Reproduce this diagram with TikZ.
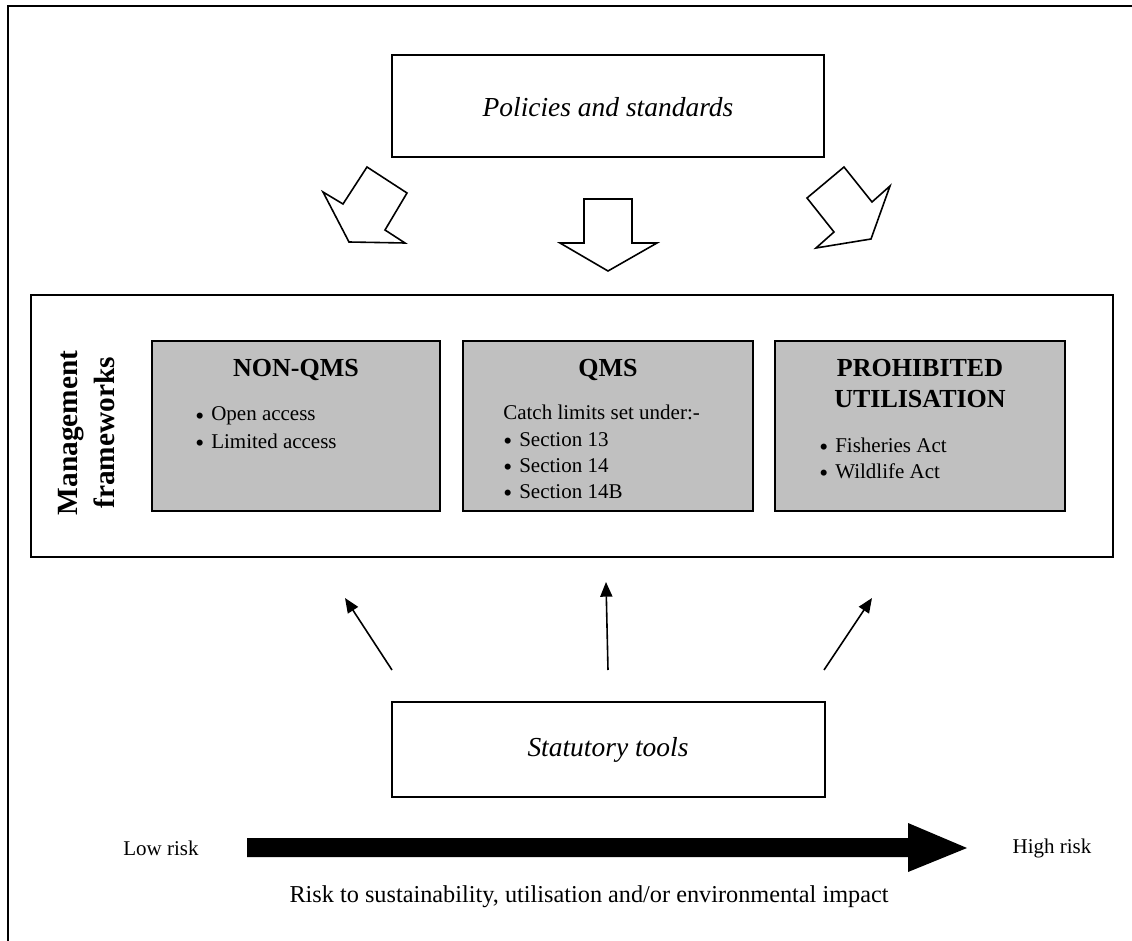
\documentclass[tikz,border=0pt]{standalone}
\usepackage{fontspec}
\setmainfont{Liberation Serif}
\usetikzlibrary{arrows.meta}
\definecolor{boxgray}{RGB}{192,192,192}
\begin{document}
\begin{tikzpicture}[x=0.75pt,y=-0.75pt,
  box/.style={draw, line width=1.3pt, inner sep=0pt},
  gbox/.style={box, fill=boxgray, minimum height=127.5pt},
  ital/.style={font=\fontsize{20.6}{24}\selectfont\itshape},
  head/.style={font=\fontsize{19.5}{22.5}\selectfont\bfseries, align=center, anchor=base},
  item/.style={font=\fontsize{15.75}{19}\selectfont, anchor=base west, inner sep=0pt},
  blockarrow/.style={draw, line width=1.2pt, line join=miter, fill=white},
  thin/.style={line width=1.2pt, -{Triangle[length=11pt,width=9pt]}},
  plain/.style={font=\fontsize{15.75}{19}\selectfont}
]
\newcommand{\bul}{\makebox[12pt][l]{\raisebox{-2.3pt}{\fontsize{19}{19}\selectfont\textbullet}}}
\useasboundingbox (0,0) rectangle (1132,941);
\clip (0,0) rectangle (1132,941);
% outer frame (runs past the right and bottom edges)
\draw[line width=1.4pt] (8,960) -- (8,6) -- (1150,6);

% top box
\node[box, minimum width=324pt, minimum height=76.5pt] (pol) at (608,106) {};
\node[ital] (poltext) at (608,107) {Policies and standards};

% block arrows
\draw[blockarrow] (323,192) -- (343,204) -- (367,167) -- (407,193) -- (385,230) -- (405,243) -- (349,242) -- cycle;
\draw[blockarrow] (584,199) -- (632,199) -- (632,243) -- (657,243) -- (608,271) -- (560,243) -- (584,243) -- cycle;
\draw[blockarrow] (807,198) -- (844,167) -- (872,202) -- (890,186) -- (871,239) -- (816,248) -- (834,232) -- cycle;

% management frame
\node[box, minimum width=811.5pt, minimum height=196.5pt] (mgmt) at (572,426) {};
\node[rotate=90, align=center, font=\fontsize{22}{27.75}\selectfont\bfseries] (mgtext) at (87,433) {Management\\frameworks};

\node[gbox, minimum width=216pt] (nonqms) at (296,426) {};
\node[gbox, minimum width=217.5pt] (qms) at (608,426) {};
\node[gbox, minimum width=217.5pt] (prohib) at (920,426) {};

\node[head] (h1) at (296,377) {NON-QMS};
\node[item] (i11) at (195,421) {\bul Open access};
\node[item] (i12) at (195,448) {\bul Limited access};

\node[head] (h2) at (608,377) {QMS};
\node[item] (i20) at (503,419) {Catch limits set under:-};
\node[item] (i21) at (503,446) {\bul Section 13};
\node[item] (i22) at (503,472) {\bul Section 14};
\node[item] (i23) at (503,498) {\bul Section 14B};

\node[head] (h3a) at (920,377) {PROHIBITED};
\node[head] (h3b) at (920,407) {UTILISATION};
\node[item] (i31) at (819,452) {\bul Fisheries Act};
\node[item] (i32) at (819,478) {\bul Wildlife Act};

% statutory tools
\node[box, minimum width=324.75pt, minimum height=71.25pt] (stat) at (608.5,749.5) {};
\node[ital] (stattext) at (608,750) {Statutory tools};

\coordinate (s1) at (392,670); \coordinate (t1) at (345,598);
\coordinate (s2) at (608,670); \coordinate (t2) at (606,582);
\coordinate (s3) at (824,670); \coordinate (t3) at (872,598);
\draw[thin] (s1) -- (t1);
\draw[thin] (s2) -- (t2);
\draw[thin] (s3) -- (t3);

% risk arrow
\fill (247,838) -- (908,838) -- (908,823) -- (967,848) -- (908,872) -- (908,857) -- (247,857) -- cycle;
\node[plain] (low) at (161,848) {Low risk};
\node[plain] (high) at (1052,848) {High risk};
\node[font=\fontsize{18.2}{22}\selectfont] (risk) at (589,897) {Risk to sustainability, utilisation and/or environmental impact};
\end{tikzpicture}
\end{document}
